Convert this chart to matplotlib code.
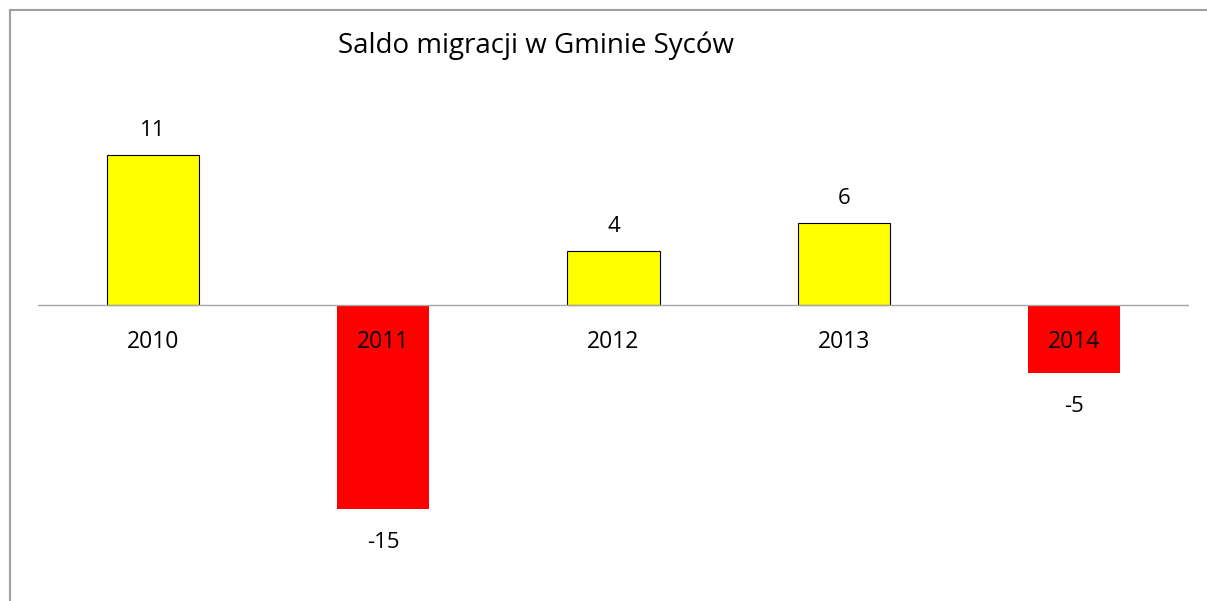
import matplotlib
matplotlib.use("Agg")
import matplotlib.pyplot as plt
from matplotlib.lines import Line2D

years = ["2010", "2011", "2012", "2013", "2014"]
values = [11, -15, 4, 6, -5]
title = "Saldo migracji w Gminie Syców"

plt.rcParams['font.family'] = ['Open Sans', 'DejaVu Sans']

W, H = 1207, 601
fig = plt.figure(figsize=(W / 100, H / 100), dpi=100)
fig.patch.set_facecolor('white')

# axes placed in pixel coordinates
left, right, top, bottom = 38, 1189, 9, 601
ax = fig.add_axes([left / W, 1 - bottom / H, (right - left) / W, (bottom - top) / H])
ax.set_xlim(-0.5, 4.5)
ax.set_ylim(-21.76, 21.76)
ax.axis('off')

xs = list(range(len(years)))
for x, v in zip(xs, values):
    if v >= 0:
        ax.bar(x, v, width=0.4, color='#FFFF00', edgecolor='black', linewidth=0.8, zorder=2)
    else:
        ax.bar(x, v, width=0.4, color='#FF0000', edgecolor='none', zorder=2)

ax.axhline(0, color='#a6a6a6', linewidth=1.0, zorder=3)

px = 72 / 100.0
for x, v, yr in zip(xs, values, years):
    if v >= 0:
        ax.annotate(str(v), (x, v), xytext=(0, 19 * px), textcoords='offset points',
                    ha='center', va='baseline', fontsize=16, zorder=4)
    else:
        ax.annotate(str(v), (x, v), xytext=(0, -39 * px), textcoords='offset points',
                    ha='center', va='baseline', fontsize=16, zorder=4)
    ax.annotate(yr, (x, 0), xytext=(0, -43 * px), textcoords='offset points',
                ha='center', va='baseline', fontsize=16.5, zorder=4)

fig.text(536 / W, 1 - 53 / H, title, ha='center', va='baseline', fontsize=20)

# chart border (left and top visible)
fig.add_artist(Line2D([9.5 / W, 9.5 / W], [0, 1 - 9.5 / H], color='#a0a0a0', linewidth=1.5,
                      transform=fig.transFigure))
fig.add_artist(Line2D([9.5 / W, 1], [1 - 9.5 / H, 1 - 9.5 / H], color='#a0a0a0', linewidth=1.5,
                      transform=fig.transFigure))

fig.savefig("out.png", dpi=100)
